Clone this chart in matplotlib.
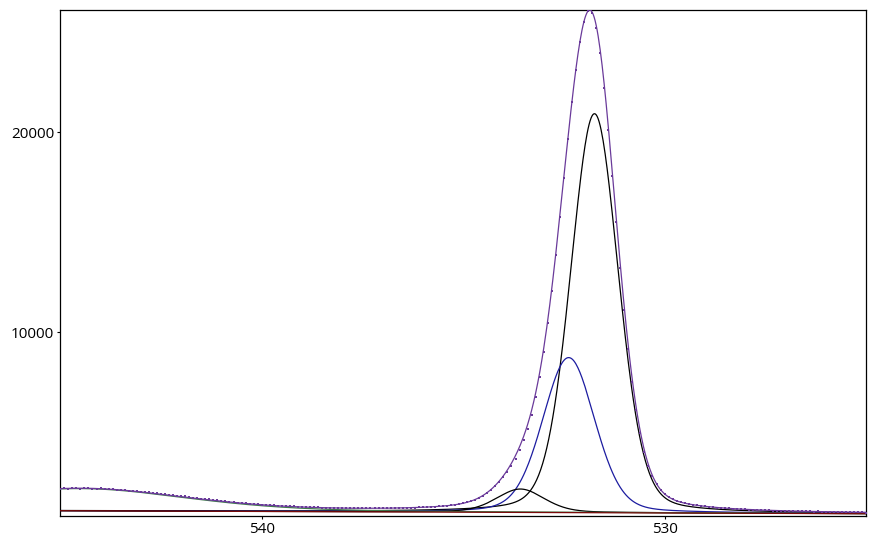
import numpy as np
import matplotlib
matplotlib.use('Agg')
import matplotlib.pyplot as plt

be_start, be_step = 525.0, 0.1
counts = [
    985, 1010, 1003, 1018, 1009, 1002, 1024, 1018, 1021, 1040,
    1028, 1031, 1047, 1039, 1043, 1060, 1052, 1057, 1072, 1067,
    1072, 1089, 1084, 1090, 1105, 1103, 1111, 1125, 1127, 1136,
    1150, 1156, 1167, 1185, 1192, 1205, 1226, 1236, 1254, 1280,
    1294, 1317, 1350, 1373, 1408, 1455, 1498, 1561, 1650, 1755,
    1906, 2116, 2405, 2801, 3334, 4040, 4952, 6100, 7506, 9174,
    11092, 13222, 15499, 17830, 20099, 22200, 23950, 25200, 25950, 26080,
    25500, 24500, 23118, 21490, 19661, 17722, 15758, 13851, 12064, 10443,
    9015, 7785, 6749, 5889, 5180, 4594, 4105, 3690, 3332, 3020,
    2747, 2508, 2299, 2118, 1963, 1831, 1720, 1628, 1553, 1492,
    1443, 1403, 1371, 1345, 1324, 1307, 1300, 1279, 1268, 1266,
    1249, 1242, 1240, 1229, 1224, 1230, 1215, 1212, 1220, 1207,
    1205, 1212, 1203, 1202, 1215, 1203, 1204, 1216, 1207, 1210,
    1224, 1216, 1220, 1236, 1229, 1234, 1252, 1247, 1254, 1275,
    1270, 1278, 1300, 1298, 1308, 1335, 1332, 1344, 1372, 1372,
    1386, 1418, 1418, 1435, 1470, 1470, 1489, 1525, 1529, 1549,
    1590, 1592, 1615, 1650, 1661, 1685, 1725, 1734, 1758, 1800,
    1809, 1834, 1870, 1884, 1905, 1940, 1950, 1970, 2010, 2010,
    2030, 2065, 2060, 2080, 2120, 2110, 2125, 2165, 2150, 2160,
    2200, 2180, 2185, 2215, 2195, 2190, 2210, 2195, 2190, 2205,
    2190,
]

# peak fit (binding energy in eV, counts above background)
peak_centre = [531.74, 532.38, 533.58, 544.5]
peak_height = [19950, 7750, 1170, 1110]
peak_fwhm = [1.40, 1.52, 1.40, 6.2]
peak_lorentz = [0.2, 0.2, 0.3, 0.3]
peak_colour = ['black', '#1c1ca0', 'black', '#3f7a4a']

# linear background: counts at 545 eV and 525 eV
bg_left = 1080
bg_right = 930

x_lo, x_hi = 525.0, 545.0
y_lo, y_hi = 815, 26100


def gl(x, c, h, w, m):
    # gaussian/lorentzian sum form
    s = w / (2*np.sqrt(2*np.log(2)))
    g = np.exp(-(x-c)**2/(2*s**2))
    l = 1.0/(1.0+((x-c)/(w/2.0))**2)
    return h*((1-m)*g + m*l)


xs = np.linspace(x_lo, x_hi, 801)
bg = bg_right + (xs-x_lo)/(x_hi-x_lo)*(bg_left-bg_right)

fig = plt.figure(figsize=(8.76, 5.5), dpi=100)
ax = fig.add_axes([0.0688, 0.0618, 0.9198, 0.9195])

env = bg.copy()
for c, h, w, m, col in zip(peak_centre, peak_height, peak_fwhm, peak_lorentz, peak_colour):
    comp = gl(xs, c, h, w, m)
    env += comp
    ax.plot(xs, bg+comp, color=col, lw=0.9, zorder=3)

ax.plot(xs, bg, color='#7a0a0a', lw=0.9, zorder=4)
ax.plot(xs, env, color='#6a3a9a', lw=0.9, zorder=5)

xd = be_start + be_step*np.arange(len(counts))
ax.plot(xd, counts, ls='none', marker='s', ms=2.0, mew=0, color='#6a3a9a', zorder=6)

ax.set_xlim(x_hi, x_lo)
ax.set_ylim(y_lo, y_hi)
ax.set_xticks([540, 530])
ax.set_yticks([10000, 20000])
ax.tick_params(length=2.5, width=0.8, labelsize=11, pad=2)
for lab in ax.get_xticklabels() + ax.get_yticklabels():
    lab.set_fontfamily('Open Sans')
for sp in ax.spines.values():
    sp.set_linewidth(0.9)

fig.savefig('out.png', dpi=100)
